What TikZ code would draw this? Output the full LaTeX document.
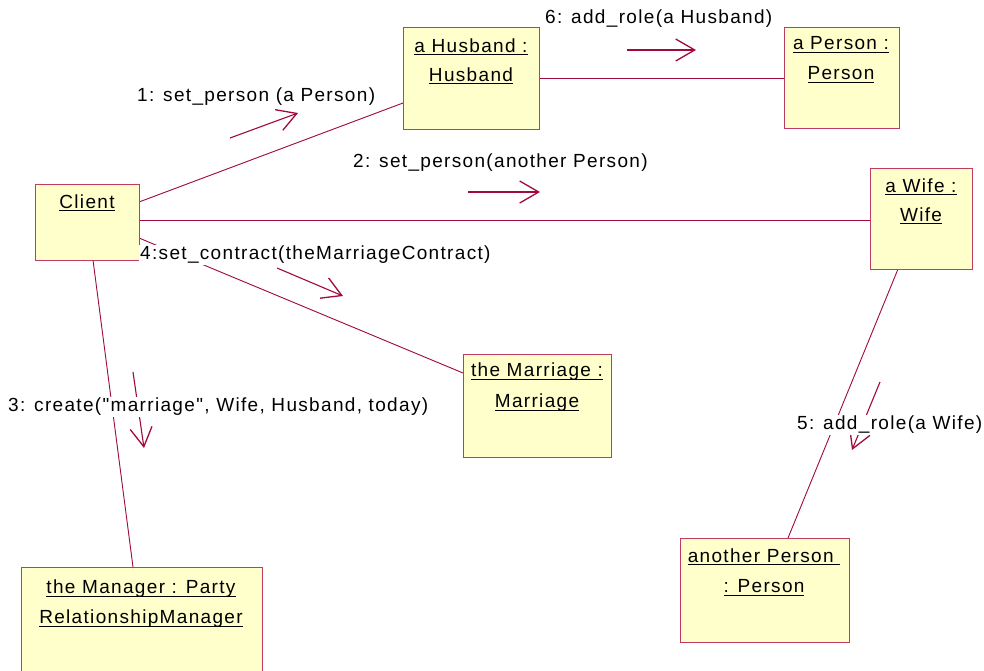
\documentclass[tikz,border=0pt]{standalone}
\usepackage{fontspec}
\setmainfont{Liberation Sans}[LetterSpace=7, Ligatures=TeXOff]
\usetikzlibrary{arrows.meta}

% underline at a fixed depth below the baseline
\newcommand{\objul}[1]{\setbox0\hbox{#1}\rlap{\rule[-3.2pt]{\wd0}{1pt}}\box0}

\definecolor{linkred}{RGB}{160,10,60}
\definecolor{boxedge}{RGB}{190,60,100}
\definecolor{boxfill}{RGB}{255,255,204}

\tikzset{
  objbox/.style={draw=boxedge, fill=boxfill, line width=1pt, anchor=north west, inner sep=0pt},
  objname/.style={anchor=center, inner sep=0pt, font=\fontsize{19}{21}\selectfont},
  link/.style={draw=linkred, line width=0.9pt},
  msg/.style={draw=linkred, line width=1.1pt, -{Straight Barb[length=19pt, width=22pt, line width=1.3pt]}},
  msglabel/.style={fill=white, inner sep=1pt, font=\fontsize{19}{21}\selectfont},
}

\begin{document}
\begin{tikzpicture}[x=1pt, y=-1pt]
  \useasboundingbox[fill=white] (0,0) rectangle (984,670);

  % links between the objects (drawn first so the boxes sit on top)
  \coordinate (cwL) at (139,220);
  \coordinate (cwR) at (870,220);
  \coordinate (chA) at (139,202);
  \coordinate (chB) at (403,103);
  \coordinate (cmA) at (139,238);
  \coordinate (cmB) at (463,373);
  \coordinate (cpA) at (93,260);
  \coordinate (cpB) at (133,567);
  \coordinate (hpA) at (539,78);
  \coordinate (hpB) at (784,78);
  \coordinate (waA) at (898,269);
  \coordinate (waB) at (788,538);
  \draw[link] (cwL) -- (cwR);
  \draw[link] (chA) -- (chB);
  \draw[link] (cmA) -- (cmB);
  \draw[link] (cpA) -- (cpB);
  \draw[link] (hpA) -- (hpB);
  \draw[link] (waA) -- (waB);

  % message arrows
  \coordinate (a1s) at (230,138); \coordinate (a1e) at (298,113);
  \coordinate (a2s) at (468,192); \coordinate (a2e) at (540,192);
  \coordinate (a3s) at (133,372); \coordinate (a3e) at (144,448);
  \coordinate (a4s) at (277,268); \coordinate (a4e) at (343,296);
  \coordinate (a5s) at (880,382); \coordinate (a5e) at (852,450);
  \coordinate (a6s) at (627,50);  \coordinate (a6e) at (696,50);
  \draw[msg] (a1s) -- (a1e);
  \draw[msg] (a2s) -- (a2e);
  \draw[msg] (a3s) -- (a3e);
  \draw[msg] (a4s) -- (a4e);
  \draw[msg] (a5s) -- (a5e);
  \draw[msg] (a6s) -- (a6e);

  % object boxes
  \node[objbox, minimum width=104pt, minimum height=76pt] (client) at (35,184) {};
  \node[objbox, minimum width=136pt, minimum height=102pt] (husband) at (403,27) {};
  \node[objbox, minimum width=115pt, minimum height=101pt] (person) at (784,27) {};
  \node[objbox, minimum width=102pt, minimum height=101pt] (wife) at (870,168) {};
  \node[objbox, minimum width=148pt, minimum height=103pt] (marriage) at (463,354) {};
  \node[objbox, minimum width=241pt, minimum height=110pt] (manager) at (21,567) {};
  \node[objbox, minimum width=169pt, minimum height=104pt] (another) at (680,538) {};

  % object names
  \node[objname] (clientT) at (87,203) {\objul{Client}};
  \node[objname] (husbandT1) at (471,47) {\objul{a Husband :}};
  \node[objname] (husbandT2) at (471,76) {\objul{Husband}};
  \node[objname] (personT1) at (841,45) {\objul{a Person :}};
  \node[objname] (personT2) at (841,75) {\objul{Person}};
  \node[objname] (wifeT1) at (921,187) {\objul{a Wife :}};
  \node[objname] (wifeT2) at (921,216) {\objul{Wife}};
  \node[objname] (marriageT1) at (537,372) {\objul{the Marriage :}};
  \node[objname] (marriageT2) at (537,403) {\objul{Marriage}};
  \node[objname] (managerT1) at (141,589) {\objul{the Manager : Party}};
  \node[objname] (managerT2) at (141,619) {\objul{RelationshipManager}};
  \node[objname] (anotherT1) at (764,557) {\objul{another Person }};
  \node[objname] (anotherT2) at (764,588) {\objul{: Person}};

  % message labels (on white, so they mask the lines behind them)
  \node[msglabel, anchor=west] (m1) at (136,97) {1: set\_person (a Person)};
  \node[msglabel, anchor=west] (m2) at (352,163) {2: set\_person(another Person)};
  \node[msglabel, anchor=west] (m3) at (7,407) {3: create("marriage", Wife, Husband, today)};
  \node[msglabel, anchor=west] (m4) at (139,255) {4:set\_contract(theMarriageContract)};
  \node[msglabel, anchor=west] (m5) at (796,425) {5: add\_role(a Wife)};
  \node[msglabel, anchor=west] (m6) at (544,19) {6: add\_role(a Husband)};
\end{tikzpicture}
\end{document}
